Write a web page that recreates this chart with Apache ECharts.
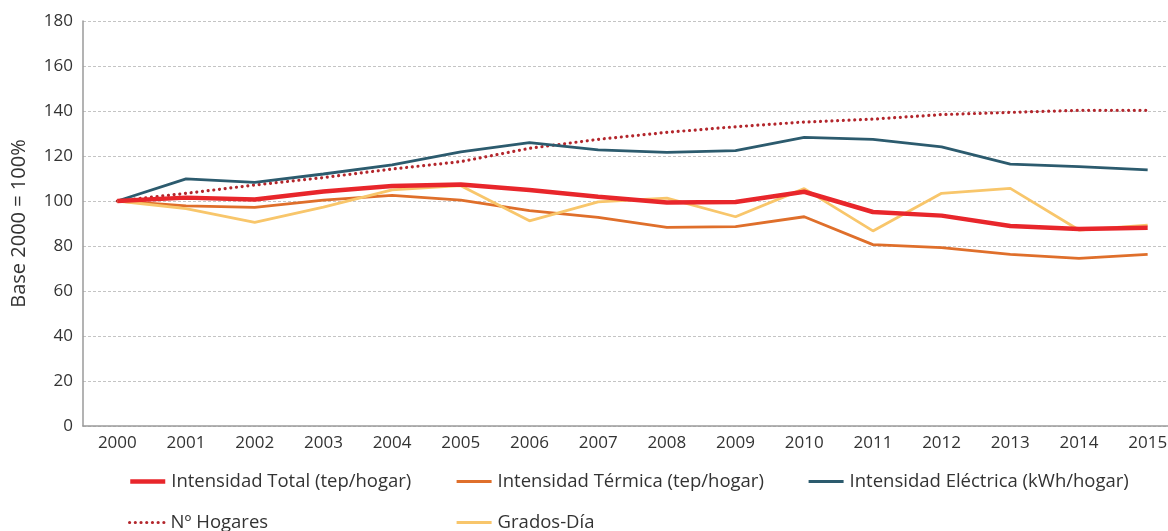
<!DOCTYPE html>
<html>
<head>
<meta charset="utf-8">
<title>Intensidad energética de los hogares</title>
<script src="https://cdn.jsdelivr.net/npm/echarts@6/dist/echarts.min.js"></script>
<style>
  html, body { margin: 0; padding: 0; background: #fff; }
  #chart { width: 1168px; height: 531px; }
</style>
</head>
<body>
<div id="chart"></div>
<script>
// Years on the category axis
const years = ['2000','2001','2002','2003','2004','2005','2006','2007','2008','2009','2010','2011','2012','2013','2014','2015'];

// Indices, base 2000 = 100
const intensidadTotal    = [100, 101.5, 100.7, 104.2, 106.7, 107.3, 104.9, 101.9, 99.3, 99.6, 104.1, 95.1, 93.5, 88.9, 87.6, 88.1];
const intensidadTermica  = [100, 97.8, 97.2, 100.4, 102.5, 100.4, 95.7, 92.7, 88.3, 88.6, 93.0, 80.6, 79.3, 76.3, 74.5, 76.3];
const intensidadElectrica= [100, 109.8, 108.3, 112.0, 116.1, 121.8, 125.9, 122.7, 121.6, 122.4, 128.3, 127.4, 124.1, 116.4, 115.3, 113.8];
const numHogares         = [100, 103.4, 107.1, 110.4, 114.2, 117.5, 123.4, 127.4, 130.5, 133.0, 135.1, 136.4, 138.4, 139.4, 140.3, 140.3];
const gradosDia          = [100, 96.6, 90.5, 97.3, 104.9, 106.8, 91.2, 99.6, 101.3, 93.0, 105.5, 86.7, 103.4, 105.6, 87.1, 89.3];

// Value axis ticks
const yTicks = { min: 0, max: 180, interval: 20 };

const FONT = '"Open Sans", "DejaVu Sans", sans-serif';
const TEXT = '#333333';

const seriesDefs = [
  { name: 'Intensidad Total (tep/hogar)',      data: intensidadTotal,     color: '#E8262B', width: 4.5, type: 'solid',     z: 5 },
  { name: 'Intensidad Térmica (tep/hogar)',    data: intensidadTermica,   color: '#DF6F2B', width: 2.8, type: 'solid',     z: 3 },
  { name: 'Intensidad Eléctrica (kWh/hogar)',  data: intensidadElectrica, color: '#2C5B6E', width: 2.8, type: 'solid',     z: 3 },
  { name: 'Nº Hogares',                        data: numHogares,          color: '#B3262C', width: 3.2, type: [0.01, 5.7], z: 2 },
  { name: 'Grados-Día',                        data: gradosDia,           color: '#F8C66B', width: 2.8, type: 'solid',     z: 4 }
];

// Legend slots (one legend per item to keep the fixed column layout)
const legendPos = [
  { left: 128, top: 472 },
  { left: 455, top: 472 },
  { left: 807, top: 472 },
  { left: 128, top: 513 },
  { left: 455, top: 513 }
];

const chart = echarts.init(document.getElementById('chart'), null, { renderer: 'canvas' });

chart.setOption({
  backgroundColor: '#ffffff',
  animation: false,
  textStyle: { fontFamily: FONT },
  grid: { left: 83, top: 21, height: 405, width: 1099, containLabel: false, outerBoundsMode: 'none' },
  legend: seriesDefs.map((s, i) => ({
    data: [s.name],
    left: legendPos[i].left,
    top: legendPos[i].top,
    orient: 'horizontal',
    itemWidth: 35,
    itemHeight: 20,
    padding: 0,
    selectedMode: false,
    itemStyle: { opacity: 0 },
    lineStyle: { width: s.width === 4.5 ? 4.5 : 3.2 },
    textStyle: { fontFamily: FONT, fontSize: 18.5, color: TEXT, padding: [0, 0, 0, 1] }
  })),
  xAxis: {
    type: 'category',
    data: years,
    boundaryGap: true,
    axisLine: { show: true, lineStyle: { color: '#9a9a9a', width: 1.5 } },
    axisTick: { show: false },
    axisLabel: { color: TEXT, fontSize: 17, fontFamily: FONT, margin: 9 },
    splitLine: { show: false }
  },
  yAxis: {
    type: 'value',
    min: yTicks.min,
    max: yTicks.max,
    interval: yTicks.interval,
    name: 'Base 2000 = 100%',
    nameLocation: 'middle',
    nameRotate: 90,
    nameGap: 54,
    nameTextStyle: { color: TEXT, fontSize: 20, fontFamily: FONT },
    axisLine: { show: true, lineStyle: { color: '#9a9a9a', width: 1.5 } },
    axisTick: { show: false },
    axisLabel: { color: TEXT, fontSize: 17, fontFamily: FONT, margin: 10 },
    splitLine: { show: true, lineStyle: { color: '#c4c4c4', type: [3, 2], width: 1 } }
  },
  series: seriesDefs.map(s => ({
    name: s.name,
    type: 'line',
    data: s.data,
    symbol: 'none',
    smooth: false,
    z: s.z,
    color: s.color,
    lineStyle: { color: s.color, width: s.width, type: s.type, cap: s.type === 'solid' ? 'butt' : 'round' },
    emphasis: { disabled: true }
  }))
});
</script>
</body>
</html>
